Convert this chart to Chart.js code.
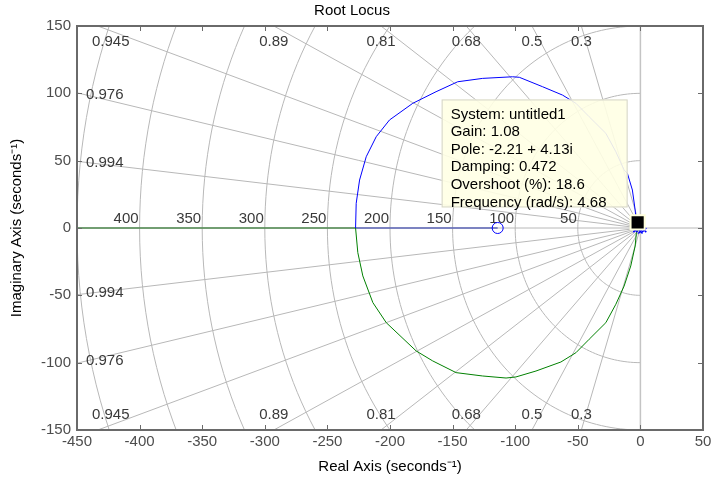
<!DOCTYPE html>
<html>
<head>
<meta charset="utf-8">
<title>Root Locus</title>
<script src="https://cdn.jsdelivr.net/npm/chart.js@4.4.1/dist/chart.umd.min.js"></script>
<style>
  html, body { margin: 0; padding: 0; background: #fff; }
</style>
</head>
<body>
<canvas id="rootLocus" width="715" height="483"></canvas>
<script>
  // sgrid: damping ratios for the rays, natural frequencies for the arcs
  const zetaLines = [0.3, 0.5, 0.68, 0.81, 0.89, 0.945, 0.976, 0.994];
  const wnCircles = [50, 100, 150, 200, 250, 300, 350, 400, 450];

  // axis ranges and tick spacing
  const xRange = [-450, 50];
  const yRange = [-150, 150];
  const tickStep = 50;

  // upper branch (blue), from the poles near the origin out to the break-in point
  const upperRe = [-1, -3.2, -4.2, -6.4, -10.4, -13, -19.6, -27.6, -40.9, -51.5, -62.2, -78.1, -96.7, -102.1, -126, -145.9, -163.2, -181.8, -200.4, -211, -219, -224.3, -227, -227.5];
  const upperIm = [0, 3.5, 13.4, 28.2, 40.6, 43.1, 56.6, 70.3, 82.6, 92.6, 98.7, 104.9, 111.9, 112.3, 111.1, 108.6, 101.2, 92.6, 80.2, 67.8, 52.9, 35.6, 18.3, 0];

  // lower branch (green)
  const lowerRe = [-1, -3.2, -4.2, -7.7, -13, -19.6, -27.6, -40.9, -51.5, -63.5, -83.4, -99.4, -107.3, -126, -147.2, -165.9, -179.1, -203, -213.7, -221.7, -225.7, -227.5];
  const lowerIm = [0, -3.5, -13.4, -28.2, -43.1, -56.6, -70.3, -82.6, -92.6, -99.5, -106.2, -110.6, -111.4, -109.9, -107.4, -98.7, -91.3, -70.3, -55.4, -35.6, -18.3, 0];

  // real-axis segments of the locus
  const realBlueRe = [-227.5, -114];
  const realGreenRe = [-450, -227.5];

  // open-loop zero and poles
  const zeroRe = [-114];
  const zeroIm = [0];
  const poleRe = [-4, 0, 3];
  const poleIm = [-1.5, -2.5, -1.5];

  // selected point (data tip)
  const tipRe = -2.21;
  const tipIm = 4.13;
  const tipGain = 1.08;

  const pts = (xs, ys) => xs.map((v, i) => ({ x: v, y: ys[i] }));
  const FONT = '"Liberation Sans", Arial, sans-serif';

  // grid of constant damping / natural frequency, with its labels
  const sgridPlugin = {
    id: 'sgrid',
    beforeDatasetsDraw(chart) {
      const { ctx, chartArea: a, scales: { x, y } } = chart;
      const px = v => x.getPixelForValue(v);
      const py = v => y.getPixelForValue(v);
      ctx.save();
      ctx.beginPath();
      ctx.rect(a.left, a.top, a.right - a.left, a.bottom - a.top);
      ctx.clip();
      ctx.strokeStyle = '#b8b8b8';
      ctx.lineWidth = 1;

      zetaLines.forEach(z => {
        const slope = Math.sqrt(1 - z * z) / z;
        [1, -1].forEach(s => {
          ctx.beginPath();
          ctx.moveTo(px(0), py(0));
          ctx.lineTo(px(-2000), py(s * 2000 * slope));
          ctx.stroke();
        });
      });

      wnCircles.forEach(w => {
        ctx.beginPath();
        for (let k = 0; k <= 120; k++) {
          const phi = Math.PI / 2 + Math.PI * k / 120;
          const X = px(w * Math.cos(phi)), Y = py(w * Math.sin(phi));
          if (k === 0) ctx.moveTo(X, Y); else ctx.lineTo(X, Y);
        }
        ctx.stroke();
      });

      // real and imaginary axes
      ctx.beginPath();
      ctx.moveTo(a.left, py(0));
      ctx.lineTo(a.right, py(0));
      ctx.stroke();
      ctx.strokeStyle = '#c4c4c4';
      ctx.lineWidth = 1.5;
      ctx.beginPath();
      ctx.moveTo(px(0), a.top);
      ctx.lineTo(px(0), a.bottom);
      ctx.stroke();
      ctx.restore();

      // damping labels
      ctx.save();
      ctx.font = '15px ' + FONT;
      ctx.fillStyle = '#3a3a3a';
      ctx.textBaseline = 'middle';
      zetaLines.forEach(z => {
        const slope = Math.sqrt(1 - z * z) / z;
        const label = String(z);
        const xTop = -y.max / slope;
        if (xTop >= x.min) {
          const w = ctx.measureText(label).width;
          const cx = Math.max(px(xTop), a.left + 15 + w / 2);
          ctx.textAlign = 'center';
          ctx.fillText(label, cx, a.top + 16);
          ctx.fillText(label, cx, a.bottom - 15);
        } else {
          const yLeft = -x.min * slope;
          ctx.textAlign = 'left';
          ctx.fillText(label, a.left + 9, py(yLeft) + 2);
          ctx.fillText(label, a.left + 9, py(-yLeft) - 2);
        }
      });

      // natural frequency labels along the real axis
      ctx.textAlign = 'right';
      ctx.textBaseline = 'alphabetic';
      wnCircles.forEach(w => {
        if (-w <= x.min + 20) return;
        ctx.fillText(String(w), px(-w) - 1, py(0) - 5);
      });
      ctx.restore();
    }
  };

  // data tip box, drawn under the tip marker but over the locus
  const dataTipPlugin = {
    id: 'dataTip',
    afterDatasetDraw(chart, args) {
      if (args.index !== 1) return;
      const { ctx, scales: { x, y } } = chart;
      const mx = x.getPixelForValue(tipRe);
      const my = y.getPixelForValue(tipIm);
      const wn = Math.hypot(tipRe, tipIm);
      const zeta = -tipRe / wn;
      const os = 100 * Math.exp(-Math.PI * zeta / Math.sqrt(1 - zeta * zeta));
      const lines = [
        'System: untitled1',
        'Gain: ' + tipGain.toFixed(2),
        'Pole: ' + tipRe.toFixed(2) + ' + ' + tipIm.toFixed(2) + 'i',
        'Damping: ' + zeta.toFixed(3),
        'Overshoot (%): ' + os.toFixed(1),
        'Frequency (rad/s): ' + wn.toFixed(2)
      ];
      const bw = 186, bh = 108;
      const bx = mx - 10 - bw, by = my - 15 - bh;
      ctx.save();
      ctx.fillStyle = 'rgba(255, 255, 228, 0.9)';
      ctx.fillRect(bx, by, bw, bh);
      ctx.strokeStyle = '#d4d4c8';
      ctx.lineWidth = 1;
      ctx.strokeRect(bx + 0.5, by + 0.5, bw - 1, bh - 1);
      ctx.fillStyle = '#000';
      ctx.font = '15px ' + FONT;
      ctx.textBaseline = 'middle';
      ctx.textAlign = 'left';
      lines.forEach((t, i) => ctx.fillText(t, bx + 9, by + 15 + i * 17.6));
      ctx.restore();
    }
  };

  // axes box with inward tick marks on every side
  const frameTicksPlugin = {
    id: 'frameTicks',
    afterDraw(chart) {
      const { ctx, chartArea: a, scales: { x, y } } = chart;
      ctx.save();
      ctx.strokeStyle = '#6a6a6a';
      ctx.lineWidth = 1;
      ctx.beginPath();
      x.ticks.forEach(t => {
        const X = Math.round(x.getPixelForValue(t.value)) + 0.5;
        ctx.moveTo(X, a.top); ctx.lineTo(X, a.top + 5);
        ctx.moveTo(X, a.bottom); ctx.lineTo(X, a.bottom - 5);
      });
      y.ticks.forEach(t => {
        const Y = Math.round(y.getPixelForValue(t.value)) + 0.5;
        ctx.moveTo(a.left, Y); ctx.lineTo(a.left + 5, Y);
        ctx.moveTo(a.right, Y); ctx.lineTo(a.right - 5, Y);
      });
      ctx.stroke();
      ctx.lineWidth = 2;
      ctx.strokeRect(a.left, a.top, a.right - a.left, a.bottom - a.top);
      ctx.restore();
    }
  };

  Chart.defaults.font.family = FONT;
  Chart.defaults.font.size = 15;

  const ctx = document.getElementById('rootLocus').getContext('2d');
  new Chart(ctx, {
    type: 'scatter',
    data: {
      datasets: [
        {
          // data tip marker
          data: [{ x: tipRe, y: tipIm }],
          pointStyle: 'rect',
          pointRadius: 10,
          backgroundColor: '#000',
          borderColor: '#ffffdc',
          borderWidth: 2
        },
        {
          data: pts(zeroRe, zeroIm),
          pointStyle: 'circle',
          pointRadius: 5.5,
          backgroundColor: 'rgba(0,0,0,0)',
          borderColor: '#0000ff',
          borderWidth: 1
        },
        {
          data: pts(poleRe, poleIm),
          pointStyle: 'crossRot',
          pointRadius: 3,
          borderColor: '#0000ff',
          borderWidth: 1.5
        },
        {
          data: pts(upperRe, upperIm),
          showLine: true, pointRadius: 0, borderColor: '#0000ff', borderWidth: 1
        },
        {
          data: pts(lowerRe, lowerIm),
          showLine: true, pointRadius: 0, borderColor: '#008000', borderWidth: 1
        },
        {
          data: pts(realBlueRe, [0, 0]),
          showLine: true, pointRadius: 0, borderColor: '#5c66b8', borderWidth: 1.5
        },
        {
          data: pts(realGreenRe, [0, 0]),
          showLine: true, pointRadius: 0, borderColor: '#4f8a4f', borderWidth: 1.5
        }
      ]
    },
    options: {
      responsive: false,
      animation: false,
      layout: { padding: { left: 0, right: 11, top: 0, bottom: 0 } },
      plugins: {
        legend: { display: false },
        tooltip: { enabled: false },
        title: {
          display: true,
          text: 'Root Locus',
          color: '#000',
          font: { size: 15, weight: 'normal' },
          padding: { top: 2, bottom: 6 }
        }
      },
      scales: {
        x: {
          type: 'linear',
          min: xRange[0],
          max: xRange[1],
          ticks: { stepSize: tickStep, color: '#4d4d4d', padding: 3 },
          grid: { display: false, drawTicks: false },
          border: { display: false },
          title: {
            display: true,
            text: 'Real Axis (seconds⁻¹)',
            color: '#000',
            padding: { top: 0, bottom: 7 }
          },
          afterFit: s => { s.height = 53; }
        },
        y: {
          type: 'linear',
          min: yRange[0],
          max: yRange[1],
          ticks: { stepSize: tickStep, color: '#4d4d4d', padding: 6 },
          grid: { display: false, drawTicks: false },
          border: { display: false },
          title: {
            display: true,
            text: 'Imaginary Axis (seconds⁻¹)',
            color: '#000',
            padding: { top: 8, bottom: 0 }
          },
          afterFit: s => { s.width = 77; }
        }
      }
    },
    plugins: [sgridPlugin, dataTipPlugin, frameTicksPlugin]
  });
</script>
</body>
</html>
